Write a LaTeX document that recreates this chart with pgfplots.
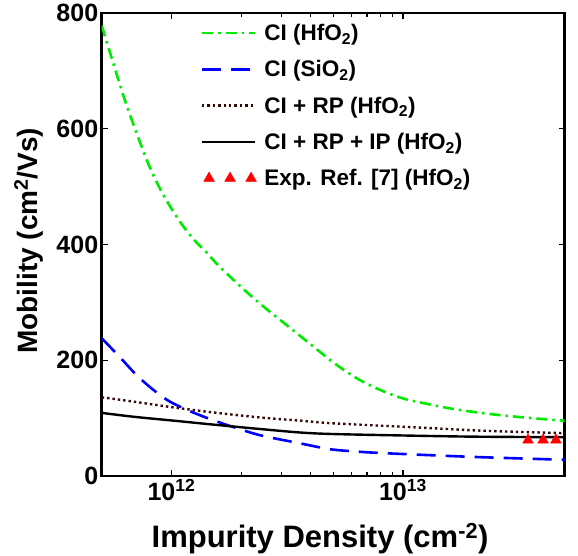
\documentclass[border=0pt]{standalone}
\usepackage{fontspec}
\setmainfont{Liberation Sans}
\usepackage{pgfplots}
\pgfplotsset{compat=1.18}

\definecolor{cigreen}{RGB}{0,235,0}
\definecolor{ciblue}{RGB}{0,0,255}
\definecolor{rpbrown}{RGB}{55,8,8}
\definecolor{expred}{RGB}{255,0,0}

\newcommand{\xlabelfont}{\bfseries\fontsize{31}{34}\selectfont}
\newcommand{\ylabelfont}{\bfseries\fontsize{28}{32}\selectfont}
\newcommand{\tickfont}{\bfseries\fontsize{25}{28}\selectfont}
\newcommand{\legfont}{\bfseries\fontsize{22.5}{26}\selectfont}

% three markers in the legend sample, as in the reference
\pgfplotsset{
    triple marks legend/.style={
        legend image code/.code={\draw[##1] plot coordinates {(7pt,0pt) (28pt,0pt) (49pt,0pt)};}},
    line legend long/.style={
        legend image code/.code={\draw[##1] (0pt,0pt) -- (53pt,0pt);}},
}

\begin{document}
\begin{tikzpicture}
\useasboundingbox (-101.7pt,-80pt) rectangle (476.3pt,476pt);
\begin{semilogxaxis}[
    at={(0pt,0pt)}, anchor=south west,
    scale only axis, width=463pt, height=463pt,
    xmin=5e11, xmax=5e13, ymin=0, ymax=800,
    xtick={1e12,1e13},
    xticklabels={10\textsuperscript{12},10\textsuperscript{13}},
    ytick={0,200,400,600,800},
    yticklabels={0,200,400,600,800},
    tick label style={font=\tickfont},
    axis line style={line width=2.5pt},
    major tick length=6pt, minor tick length=4pt,
    every tick/.style={black, line width=1.2pt},
    xlabel={Impurity Density (cm\textsuperscript{-2})},
    ylabel={Mobility (cm\textsuperscript{2}/Vs)},
    xlabel style={font=\xlabelfont, at={(axis description cs:0.4715,-0.136)}, anchor=center},
    ylabel style={font=\ylabelfont, at={(axis description cs:-0.158,0.508)}, anchor=center},
    % legend sits inside the box, no frame, line samples ~53pt long
    legend style={draw=none, fill=none, at={(0.207,0.985)}, anchor=north west,
        font=\legfont, row sep=14.5pt, cells={anchor=west},
        /tikz/every odd column/.append style={column sep=6pt}},
    line legend long,
]
% --- CI (HfO2) ---
\addplot[cigreen, line width=2.6pt, smooth, dash pattern=on 11pt off 5pt on 2.5pt off 5pt]
coordinates {(5e11,778) (5.62e11,712) (6.31e11,648) (7.08e11,592) (7.94e11,540)
    (8.91e11,497) (1e12,462) (1.122e12,432) (1.259e12,407) (1.413e12,387)
    (1.585e12,365) (1.995e12,327) (2.512e12,292) (3.162e12,260) (3.981e12,228)
    (5.012e12,196) (6.31e12,169) (7.943e12,149) (1e13,134) (1.259e13,125)
    (1.585e13,117) (1.995e13,111) (2.512e13,106) (3.162e13,102) (3.981e13,98.5) (5e13,95.5)};
\addlegendentry{CI (HfO\textsubscript{2})}
% --- CI (SiO2) ---
\addplot[ciblue, line width=2.6pt, smooth, dash pattern=on 19pt off 10pt]
coordinates {(5e11,238) (6e11,205) (7e11,176) (8e11,155) (9e11,139) (1e12,127)
    (1.22e12,111) (1.5e12,97) (1.87e12,84) (2.44e12,70) (3.64e12,56) (4.9e12,46)
    (7e12,41) (1e13,38) (2e13,33) (5e13,28)};
\addlegendentry{CI (SiO\textsubscript{2})}
% --- CI + RP (HfO2) ---
\addplot[rpbrown, line width=2.4pt, smooth, dash pattern=on 2.4pt off 3pt]
coordinates {(5e11,136) (7e11,128) (1e12,119) (1.5e12,110) (2.44e12,101)
    (3.64e12,95.5) (5e12,91) (1.14e13,84) (2e13,79) (3e13,76.5) (5e13,74)};
\addlegendentry{CI + RP (HfO\textsubscript{2})}
% --- CI + RP + IP (HfO2) ---
\addplot[black, line width=2.4pt, smooth]
coordinates {(5e11,109) (7e11,102) (1e12,96) (1.5e12,89) (2.44e12,81)
    (3.64e12,75) (5e12,72.5) (1e13,70) (2e13,68) (5e13,67)};
\addlegendentry{CI + RP + IP (HfO\textsubscript{2})}
% --- experiment ---
\addplot[expred, only marks, mark=triangle*, mark size=6.2pt, triple marks legend]
coordinates {(3.47e13,62) (4.03e13,62) (4.58e13,62)};
\addlegendentry{Exp. Ref. [7] (HfO\textsubscript{2})}
\end{semilogxaxis}
\end{tikzpicture}
\end{document}
